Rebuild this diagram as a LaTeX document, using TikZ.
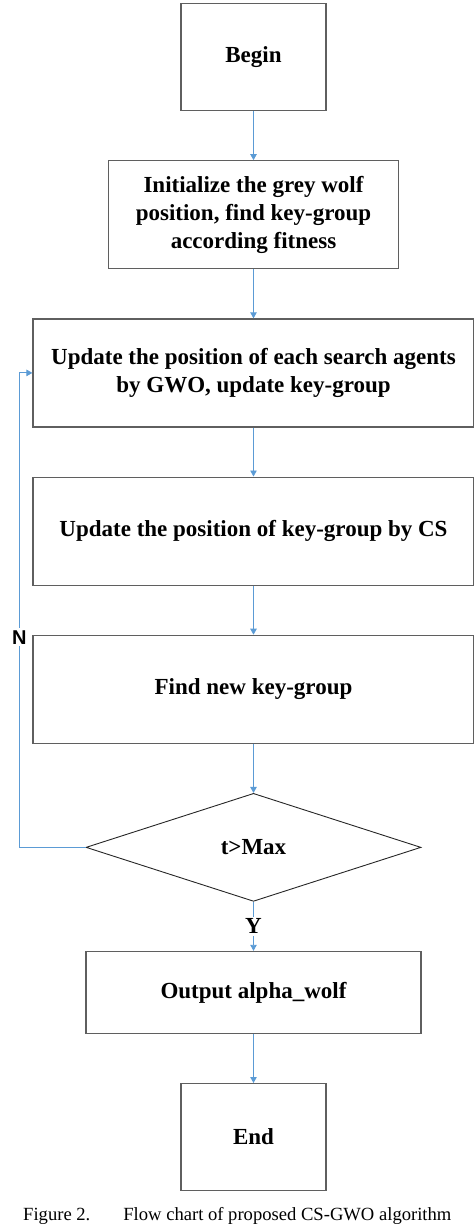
\documentclass[tikz,border=0pt]{standalone}
\usepackage{fontspec}
\setmainfont{Liberation Serif}
\setsansfont{Liberation Sans}
\usepackage{xcolor}
\usetikzlibrary{arrows.meta,positioning,shapes.geometric}
\definecolor{flowblue}{RGB}{91,155,213}
\definecolor{boxgray}{RGB}{95,95,95}

\begin{document}
\begin{tikzpicture}[
  x=1pt, y=1pt,
  node distance=49pt,
  font=\fontsize{23}{28}\selectfont\bfseries,
  flowbox/.style={draw=boxgray, line width=1.2pt, align=center, inner sep=0pt},
  smallbox/.style={flowbox, minimum width=145pt, minimum height=107pt},
  widebox/.style={flowbox, minimum width=441pt, minimum height=108pt},
  decision/.style={draw=black!85, line width=0.9pt, diamond, aspect=3.1, inner sep=0pt, minimum width=335pt, minimum height=108pt},
  arrow/.style={-{Triangle[length=6pt,width=6.5pt]}, flowblue, line width=0.9pt}
]
\useasboundingbox (0,0) rectangle (474,-1227);
\node[smallbox] (begin) at (253.5,-57) {Begin};
\node[flowbox, minimum width=290pt, minimum height=108pt, below=of begin] (init) {Initialize the grey wolf\\position, find key-group\\according fitness};
\node[widebox, below=of init] (gwo) {Update the position of each search agents\\by GWO, update key-group};
\node[widebox, below=of gwo] (cs) {Update the position of key-group by CS};
\node[widebox, below=of cs] (find) {Find new key-group};
\node[decision, below=of find] (check) {t>Max};
\node[flowbox, minimum width=335pt, minimum height=82pt, below=of check] (out) {Output alpha\_wolf};
\node[smallbox, below=of out] (end) {End};
\coordinate[left=13pt of gwo.west] (looptop);
\coordinate (loopbot) at (looptop |- check.west);
\draw[arrow] (begin) -- (init);
\draw[arrow] (init) -- (gwo);
\draw[arrow] (gwo) -- (cs);
\draw[arrow] (cs) -- (find);
\draw[arrow] (find) -- (check);
\draw[arrow] (check) -- node[fill=white, text=black, inner sep=2pt]{Y} (out);
\draw[arrow] (out) -- (end);
\draw[arrow] (check.west) -- (loopbot) -- node[pos=0.443, fill=white, text=black, inner sep=2pt, font=\fontsize{20}{24}\selectfont\sffamily\bfseries]{N} (looptop) -- (gwo.west);
% caption
\node[anchor=west, inner sep=0pt, font=\fontsize{18.6}{22}\selectfont] (caption) at (23,-1216) {Figure 2.\hspace{33pt}Flow chart of proposed CS-GWO algorithm};
\end{tikzpicture}
\end{document}
